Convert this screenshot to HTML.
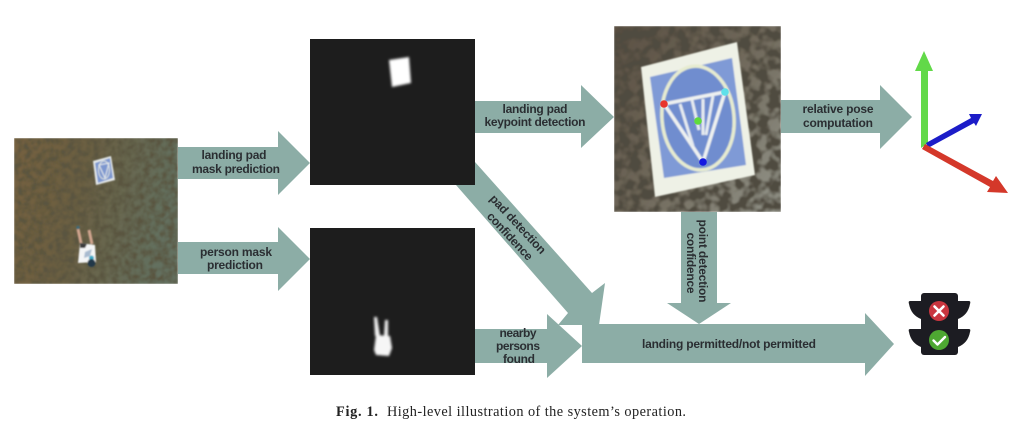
<!DOCTYPE html>
<html><head><meta charset="utf-8"><style>
html,body{margin:0;padding:0;background:#fff;width:1024px;height:437px;overflow:hidden}
svg{display:block}
.t{font-family:"Liberation Sans",sans-serif;font-weight:bold;font-size:12px;fill:#2c2f33;text-anchor:middle}
.c{font-family:"Liberation Serif",serif;font-size:14.3px;fill:#222}
</style></head><body>
<svg width="1024" height="437" viewBox="0 0 1024 437" xmlns="http://www.w3.org/2000/svg">
<defs>
<filter id="grass" x="0" y="0" width="100%" height="100%">
<feTurbulence type="fractalNoise" baseFrequency="0.16" numOctaves="3" seed="4"/>
<feColorMatrix type="matrix" values="0 0 0 0 0.1  0 0 0 0 0.09  0 0 0 0 0.05  2.4 0 0 0 -0.8"/>
<feComposite in2="SourceGraphic" operator="in" result="d"/>
<feMerge><feMergeNode in="SourceGraphic"/><feMergeNode in="d"/></feMerge>
<feGaussianBlur stdDeviation="0.8"/>
</filter>
<filter id="rough" x="0" y="0" width="100%" height="100%">
<feTurbulence type="fractalNoise" baseFrequency="0.1" numOctaves="2" seed="9"/>
<feColorMatrix type="matrix" values="0 0 0 0 0.08  0 0 0 0 0.07  0 0 0 0 0.05  4 0 0 0 -1.4"/>
<feComposite in2="SourceGraphic" operator="in" result="d"/>
<feMerge><feMergeNode in="SourceGraphic"/><feMergeNode in="d"/></feMerge>
<feGaussianBlur stdDeviation="0.8"/>
</filter>
<filter id="b1"><feGaussianBlur stdDeviation="1.2"/></filter>
<filter id="b05"><feGaussianBlur stdDeviation="0.7"/></filter>
<filter id="b03"><feGaussianBlur stdDeviation="0.3"/></filter>
<linearGradient id="lg" x1="0" x2="1" y1="0" y2="0.2">
<stop offset="0" stop-color="#75603f"/><stop offset="0.45" stop-color="#6b5f42"/><stop offset="1" stop-color="#63705f"/>
</linearGradient>
<linearGradient id="rg" x1="0" x2="1" y1="0" y2="0.8">
<stop offset="0" stop-color="#5a4f42"/><stop offset="0.55" stop-color="#6f685a"/><stop offset="1" stop-color="#8d8d82"/>
</linearGradient>
</defs>

<!-- arrows -->
<g fill="#8cada6">
<polygon points="178,147 278,147 278,131 310,163 278,195 278,179 178,179"/>
<polygon points="178,242 278,242 278,227 310,259 278,291 278,274 178,274"/>
<polygon points="475,101 581,101 581,85 614,117 581,148 581,133 475,133"/>
<polygon points="781,100 880,100 880,85 912,117 880,149 880,133 781,133"/>
<polygon points="475,162 592,293 605,283 599,325 558,325 568,313 456,185"/>
<polygon points="582,324 865,324 865,313 894,344 865,376 865,363 582,363"/>
<polygon points="475,329 547,329 547,314 582,346 547,378 547,363 475,363"/>
<polygon points="681,212 717,212 717,303 731,303 699,324 667,303 681,303"/>
</g>

<!-- left photo -->
<rect x="14" y="138" width="164" height="146" fill="url(#lg)" filter="url(#grass)"/>
<g filter="url(#b05)">
<polygon points="93,161 111,156 115,180 96,185" fill="#e8ecec"/>
<polygon points="95,163 110,158 113,178 98,183" fill="#7d97cf"/>
<ellipse cx="104" cy="170" rx="5.5" ry="9" fill="none" stroke="#dfe4e0" stroke-width="1"/>
<polygon points="99,165 109,163 105,178" fill="none" stroke="#e8ecec" stroke-width="1"/>
<path d="M78,229 L81,243 M89,230 L92,244" stroke="#d0a48e" stroke-width="3"/>
<polygon points="80,243 95,245 96,262 78,263" fill="#f4f5f6"/>
<polygon points="80,243 87,244 85,248 80,248" fill="#3a3a3a"/>
<polygon points="85,252 92,249 90,256 84,258" fill="#a9bbd0"/>
<circle cx="91.500" cy="258" r="2.500" fill="#3aa9c8"/>
<circle cx="91.500" cy="263" r="4" fill="#20384a"/>
<circle cx="78" cy="227.500" r="1.800" fill="#3f6a78"/>
</g>

<!-- masks -->
<rect x="310" y="39" width="165" height="146" fill="#1d1d1d"/>
<rect x="310" y="228" width="165" height="147" fill="#1d1d1d"/>
<polygon points="389,60 409,57 411,83 392,87" fill="#fff" filter="url(#b1)"/>
<g fill="#f6f6f6" filter="url(#b1)">
<polygon points="374,317 377,317 380,336 375,336"/>
<polygon points="385,320 388,320 388,336 384,336"/>
<polygon points="376,335 390,336 392,348 389,356 376,355 374,350"/>
</g>

<!-- right photo -->
<rect x="614" y="26" width="167" height="186" fill="url(#rg)" filter="url(#rough)"/>
<g filter="url(#b05)">
<polygon points="641,67 737,42 755,175 655,197" fill="#eef1e6"/>
<polygon points="650,77 732,58 746,165 664,178" fill="#7f9ad6"/>
<ellipse cx="698" cy="118" rx="36" ry="52" transform="rotate(-5 698 118)" fill="#6f8dcf" stroke="#e6ebd0" stroke-width="3.500"/>
<polygon points="664,104 725,92 703,162" fill="#6f8dcf" stroke="#eef1f0" stroke-width="3.500" stroke-linejoin="round"/>
<path d="M680,104 L693,146 M692,100 L699,130 M703,99 L703,135 M713,96 L706,135" stroke="#e6ebef" stroke-width="3"/>
</g>
<circle cx="664" cy="104" r="3.800" fill="#e8342c"/>
<circle cx="725" cy="92" r="3.800" fill="#5fe0ea"/>
<circle cx="698" cy="121" r="3.800" fill="#5fdc3c"/>
<circle cx="703" cy="162" r="3.800" fill="#1418e0"/>

<!-- axes -->
<g filter="url(#b03)">
<polygon points="921,148 921,71 915,71 924,51 933,71 928,71 928,143" fill="#62d94a"/>
<polygon points="926,143 971,118 969,114 982,114 976,126 974,123 928,148" fill="#1a1fc8"/>
<polygon points="925,144 993,181 996,176 1008,193 987,192 990,187 922,149" fill="#d4372a"/>
</g>

<!-- traffic light -->
<g fill="#1e1e20" filter="url(#b03)">
<rect x="921" y="293" width="37" height="62" rx="3"/>
<path d="M921,301 H910 Q908,301 909,304 Q911,315 921,319 Z"/>
<path d="M958,301 H969 Q971,301 970,304 Q968,315 958,319 Z"/>
<path d="M921,329 H910 Q908,329 909,332 Q911,343 921,347 Z"/>
<path d="M958,329 H969 Q971,329 970,332 Q968,343 958,347 Z"/>
</g>
<circle cx="939" cy="311" r="10" fill="#c9363f"/>
<path d="M934.500,306.500 L943.500,315.500 M943.500,306.500 L934.500,315.500" stroke="#fff" stroke-width="2.600" stroke-linecap="round"/>
<circle cx="939" cy="340" r="10" fill="#4ea832"/>
<path d="M933.500,340.500 L937.500,344.500 L945,337" fill="none" stroke="#fff" stroke-width="2.400" stroke-linecap="round" stroke-linejoin="round"/>

<!-- labels -->
<g filter="url(#b03)">
<text class="t" x="234" y="159" textLength="65" lengthAdjust="spacing">landing pad</text>
<text class="t" x="236" y="173" textLength="88" lengthAdjust="spacing">mask prediction</text>
<text class="t" x="236" y="256" textLength="72" lengthAdjust="spacing">person mask</text>
<text class="t" x="235" y="269" textLength="56" lengthAdjust="spacing">prediction</text>
<text class="t" x="535" y="113" textLength="65" lengthAdjust="spacing">landing pad</text>
<text class="t" x="535" y="126" textLength="101" lengthAdjust="spacing">keypoint detection</text>
<text class="t" x="838" y="113" textLength="71" lengthAdjust="spacing">relative pose</text>
<text class="t" x="838" y="127" textLength="70" lengthAdjust="spacing">computation</text>
<text class="t" x="518" y="337" textLength="37" lengthAdjust="spacing">nearby</text>
<text class="t" x="518" y="350" textLength="44" lengthAdjust="spacing">persons</text>
<text class="t" x="519" y="363" textLength="32" lengthAdjust="spacing">found</text>
<text class="t" x="729" y="348" textLength="174" lengthAdjust="spacing">landing permitted/not permitted</text>
<text class="t" transform="translate(699,261) rotate(90)" textLength="83" lengthAdjust="spacing">point detection</text>
<text class="t" transform="translate(687,263) rotate(90)" textLength="61" lengthAdjust="spacing">confidence</text>
<text class="t" transform="translate(515,227) rotate(47)" textLength="76" lengthAdjust="spacing">pad detection</text>
<text class="t" transform="translate(507,239) rotate(47)" textLength="61" lengthAdjust="spacing">confidence</text>
</g>

<!-- caption -->
<text class="c" x="336" y="416" font-weight="bold" textLength="42" lengthAdjust="spacing">Fig. 1.</text>
<text class="c" x="387" y="416" textLength="299" lengthAdjust="spacing">High-level illustration of the system’s operation.</text>
</svg>
</body></html>
